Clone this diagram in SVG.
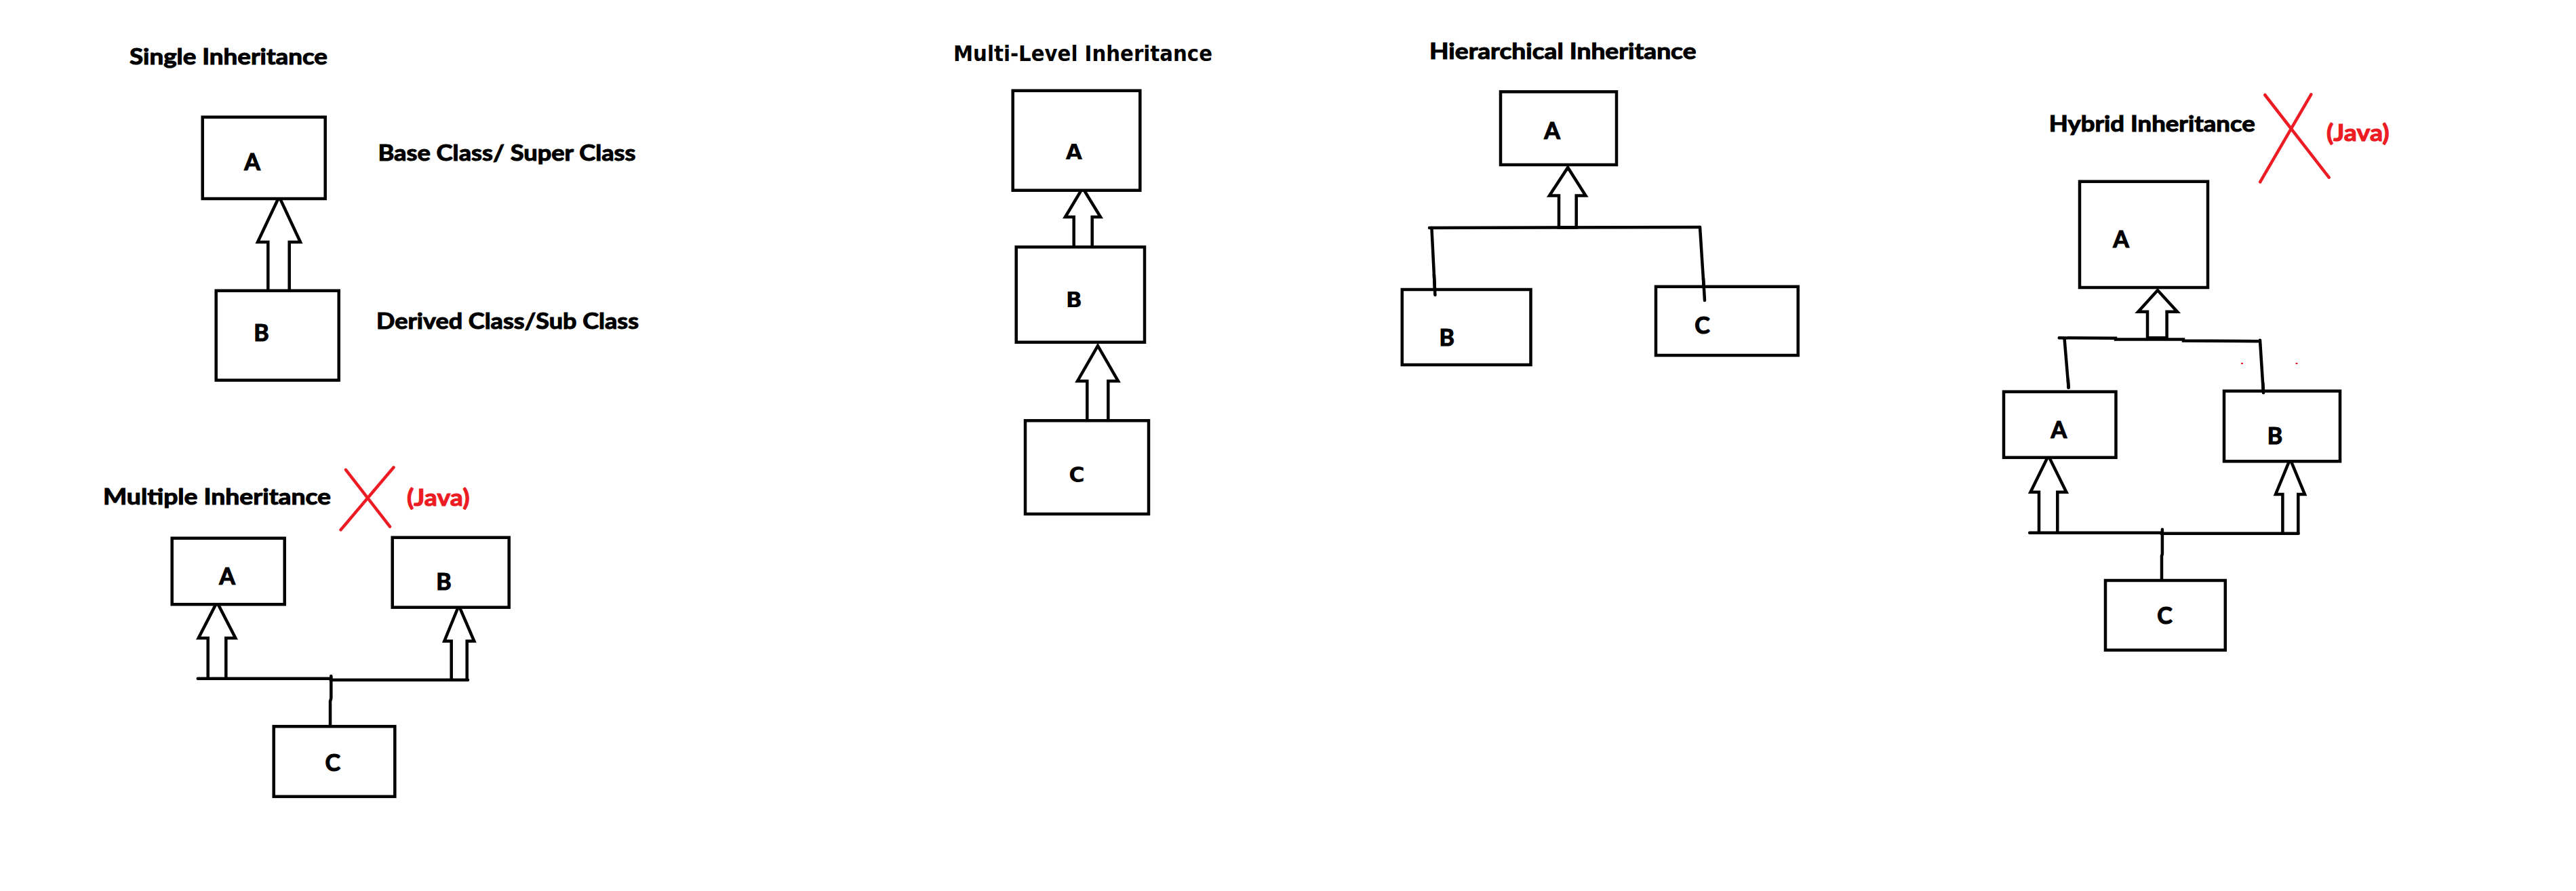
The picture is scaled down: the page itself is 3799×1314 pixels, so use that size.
<svg xmlns="http://www.w3.org/2000/svg" width="3799" height="1314" viewBox="0 0 3799 1314">
<style>
.box{fill:#ffffff;stroke:#000000;stroke-width:4.5}
.arr{fill:#ffffff;stroke:#000000;stroke-width:4.5;stroke-linejoin:miter;stroke-miterlimit:10}
.ln{fill:none;stroke:#000000;stroke-width:4.5;stroke-linecap:round}
.x{fill:none;stroke:#ED1C24;stroke-width:4.5;stroke-linecap:round}
.t{font-family:Lato,"Open Sans","Liberation Sans",sans-serif;font-weight:700;font-size:33px;fill:#000000;stroke:#000000;stroke-width:1.1}
.lt{font-family:Lato,"Open Sans","Liberation Sans",sans-serif;font-weight:700;font-size:34px;fill:#000000;stroke:#000000;stroke-width:1.2;text-anchor:middle}
.v{font-family:"DejaVu Sans",Verdana,sans-serif;font-weight:700;font-size:32px;fill:#000000}
.vl{font-family:"DejaVu Sans",Verdana,sans-serif;font-weight:700;font-size:32px;fill:#000000;text-anchor:middle}
.red{font-family:Lato,"Open Sans","Liberation Sans",sans-serif;font-weight:700;font-size:34px;fill:#ED1C24;stroke:#ED1C24;stroke-width:1.1}
</style>
<rect x="0" y="0" width="3799" height="1314" fill="#ffffff"/>

<!-- Titles and annotations -->
<g id="labels">
  <text class="t" x="191" y="95" textLength="292" lengthAdjust="spacingAndGlyphs">Single Inheritance</text>
  <text class="t" x="557.5" y="237" textLength="380" lengthAdjust="spacingAndGlyphs">Base Class/ Super Class</text>
  <text class="t" x="555" y="485" textLength="387" lengthAdjust="spacingAndGlyphs">Derived Class/Sub Class</text>
  <text class="t" x="152" y="743.5" textLength="336" lengthAdjust="spacingAndGlyphs">Multiple Inheritance</text>
  <text class="red" x="600" y="746" textLength="92.5" lengthAdjust="spacingAndGlyphs">(Java)</text>
  <text class="v" x="1406" y="89.5" textLength="382" lengthAdjust="spacingAndGlyphs">Multi-Level Inheritance</text>
  <text class="t" x="2108" y="86.7" textLength="393.5" lengthAdjust="spacingAndGlyphs">Hierarchical Inheritance</text>
  <text class="t" x="3021.7" y="194" textLength="304" lengthAdjust="spacingAndGlyphs">Hybrid Inheritance</text>
  <text class="red" x="3431" y="208.3" textLength="92.7" lengthAdjust="spacingAndGlyphs">(Java)</text>
  <line class="x" x1="510" y1="692.8" x2="575" y2="776.6"/>
  <line class="x" x1="580.5" y1="689.3" x2="502.5" y2="781.4"/>
  <line class="x" x1="3340.3" y1="140" x2="3434.7" y2="261.7"/>
  <line class="x" x1="3408.3" y1="139.3" x2="3333.2" y2="268.3"/>
  <rect x="3305" y="535" width="3" height="2" fill="#ED1C24"/>
  <rect x="3385.5" y="535" width="3" height="2" fill="#ED1C24"/>
</g>

<!-- Connectors -->
<g id="connectors">
  <!-- Single -->
  <polyline class="arr" points="395.3,428.7 395.3,357 380,357 411.7,290 443,357 426.7,357 426.7,428.7"/>
  <!-- Multiple -->
  <polyline class="arr" points="306.7,1000.7 306.7,941 292.7,941 320,888 347.3,941 333.3,941 333.3,1000.7"/>
  <polyline class="arr" points="665.7,1002.7 665.7,945.5 655.3,945.5 676.7,893 699.3,945.5 688.7,945.5 688.7,1002.7"/>
  <polyline class="ln" points="291.7,1000.7 488,1000.7 488,1002.7 690,1002.7"/>
  <polyline class="ln" points="488.3,997 488.3,1030 487,1034 487,1071"/>
  <!-- Multi-level -->
  <polygon class="arr" points="1583.7,367 1583.7,320 1571,320 1596.7,277 1623,320 1610.7,320 1610.7,367"/>
  <rect x="1582" y="363" width="30" height="6" fill="#000000"/>
  <polyline class="arr" points="1603.3,620 1603.3,562 1589,562 1619,510 1649,562 1634.3,562 1634.3,620"/>
  <!-- Hierarchical -->
  <polygon class="arr" points="2299,335.5 2299,288.5 2285,288.5 2312.2,247 2338.5,288.5 2324.7,288.5 2324.7,335.5"/>
  <line class="ln" x1="2108" y1="336" x2="2507" y2="335"/>
  <line class="ln" x1="2111.4" y1="336" x2="2116.4" y2="435"/>
  <line class="ln" x1="2507" y1="335" x2="2514" y2="443"/>
  <!-- Hybrid -->
  <polygon class="arr" points="3167,498.3 3167,459.7 3153.3,459.7 3182,428 3211,459.7 3195.6,459.7 3195.6,498.3"/>
  <polyline class="ln" points="3036.7,498.3 3120,498.8 3120,500.5 3220,500.5 3220,502.5 3330,503.3"/>
  <line class="ln" x1="3044.6" y1="500" x2="3050.6" y2="571.7"/>
  <line class="ln" x1="3333" y1="501.7" x2="3338" y2="579.3"/>
  <polyline class="arr" points="3007,785 3007,725.7 2994.5,725.7 3020.9,672 3047.4,725.7 3034.3,725.7 3034.3,785"/>
  <polyline class="arr" points="3366.4,785.7 3366.4,729 3356,729 3377.4,677 3399,729 3389.3,729 3389.3,785.7"/>
  <polyline class="ln" points="2993.2,785.7 3188,785.7 3188,786.7 3389.7,786.7"/>
  <polyline class="ln" points="3188.9,780.7 3188.9,817 3188,820 3188,856"/>
</g>

<!-- Single inheritance -->
<g id="single-A"><rect class="box" x="298.7" y="172.7" width="181" height="120.3"/><text class="lt" x="372" y="250.7">A</text></g>
<g id="single-B"><rect class="box" x="318.7" y="428.7" width="181" height="132"/><text class="lt" x="385.5" y="503.3">B</text></g>

<!-- Multiple inheritance -->
<g id="multiple-A"><rect class="box" x="253.7" y="793.7" width="166" height="97.6"/><text class="lt" x="335" y="861.7">A</text></g>
<g id="multiple-B"><rect class="box" x="578.7" y="792.7" width="172" height="103"/><text class="lt" x="654.5" y="870">B</text></g>
<g id="multiple-C"><rect class="box" x="403.7" y="1071.3" width="178.6" height="103.4"/><text class="lt" x="490.7" y="1136.7">C</text></g>

<!-- Multi-level inheritance -->
<g id="multilevel-A"><rect class="box" x="1493.7" y="133.7" width="187.6" height="147"/><text class="vl" x="1584" y="235">A</text></g>
<g id="multilevel-B"><rect class="box" x="1498.7" y="364.3" width="189.3" height="140.4"/><text class="vl" x="1584" y="452.7">B</text></g>
<g id="multilevel-C"><rect class="box" x="1512" y="620.3" width="182" height="137.7"/><text class="vl" x="1588" y="710.7">C</text></g>

<!-- Hierarchical inheritance -->
<g id="hier-A"><rect class="box" x="2213" y="135.3" width="171" height="107.7"/><text class="lt" x="2289" y="205">A</text></g>
<g id="hier-B"><rect class="box" x="2067.8" y="427" width="189.7" height="111"/><text class="lt" x="2133.7" y="510">B</text></g>
<g id="hier-C"><rect class="box" x="2442" y="422.7" width="209.7" height="101.3"/><text class="lt" x="2510.5" y="491.7">C</text></g>

<!-- Hybrid inheritance -->
<g id="hybrid-A-top"><rect class="box" x="3067" y="267.7" width="189" height="156.3"/><text class="lt" x="3128" y="365">A</text></g>
<g id="hybrid-A"><rect class="box" x="2955" y="577.7" width="165.5" height="97"/><text class="lt" x="3036.4" y="646">A</text></g>
<g id="hybrid-B"><rect class="box" x="3280" y="576.7" width="171" height="103.6"/><text class="lt" x="3355" y="655">B</text></g>
<g id="hybrid-C"><rect class="box" x="3105" y="856" width="176.8" height="102.7"/><text class="lt" x="3192.5" y="920">C</text></g>

<!-- connector ends that overlap box edges -->
<g id="connector-overlaps">
  <line class="ln" x1="2114.9" y1="405" x2="2116.4" y2="435"/>
  <line class="ln" x1="2512" y1="410" x2="2514" y2="443"/>
  <line class="ln" x1="3050" y1="560" x2="3050.6" y2="571.7"/>
  <line class="ln" x1="3337.3" y1="565" x2="3338" y2="579.3"/>
</g>
</svg>
